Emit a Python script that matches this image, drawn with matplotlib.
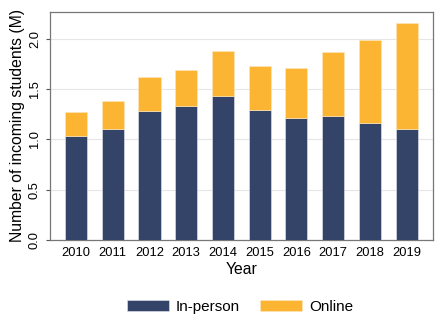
import matplotlib.pyplot as plt
import numpy as np

plt.rcParams['font.family'] = ['Liberation Sans', 'DejaVu Sans']

years = ["2010", "2011", "2012", "2013", "2014", "2015", "2016", "2017", "2018", "2019"]
in_person = [1.035, 1.104, 1.28, 1.332, 1.435, 1.287, 1.213, 1.233, 1.161, 1.101]
total = [1.267, 1.379, 1.62, 1.693, 1.878, 1.729, 1.713, 1.868, 1.984, 2.156]
online = [t - p for t, p in zip(total, in_person)]

navy = "#344468"
gold = "#fbb533"

fig = plt.figure(figsize=(4.45, 3.24), dpi=100)
ax = fig.add_axes([50 / 445, 84 / 324, 383 / 445, 228 / 324])

x = np.arange(len(years))
b1 = ax.bar(x, in_person, width=0.6, color=navy, edgecolor="#e8e8ee", linewidth=0.4, label="In-person", zorder=3)
b2 = ax.bar(x, online, bottom=in_person, width=0.6, color=gold, edgecolor="#fde9c0", linewidth=0.4, label="Online", zorder=3)

ax.set_xlim(-0.71, 9.72)
ax.set_ylim(0, 2.265)
ax.set_yticks([0, 0.5, 1.0, 1.5, 2.0])
ax.set_yticklabels(["0.0", "0.5", "1.0", "1.5", "2.0"], rotation=90, va="center")
ax.set_xticks(x)
ax.set_xticklabels(years)
ax.tick_params(axis="both", labelsize=9.3, color="#555555", length=3, width=0.8)
ax.tick_params(axis="x", length=0, pad=5)
ax.grid(axis="y", color="#e6e6e6", linewidth=0.8, zorder=0)
for s in ax.spines.values():
    s.set_color("#777777")
    s.set_linewidth(0.9)

ax.set_xlabel("Year", fontsize=11.3, labelpad=2)
ax.set_ylabel("Number of incoming students (M)", fontsize=11.3, labelpad=3)

fig.legend(handles=[b1, b2], loc="center", bbox_to_anchor=(0.539, 0.053),
           ncol=2, frameon=False, fontsize=11, handlelength=2.75, handleheight=0.65,
           columnspacing=1.3, handletextpad=0.46)

fig.savefig("out.png", dpi=100)
